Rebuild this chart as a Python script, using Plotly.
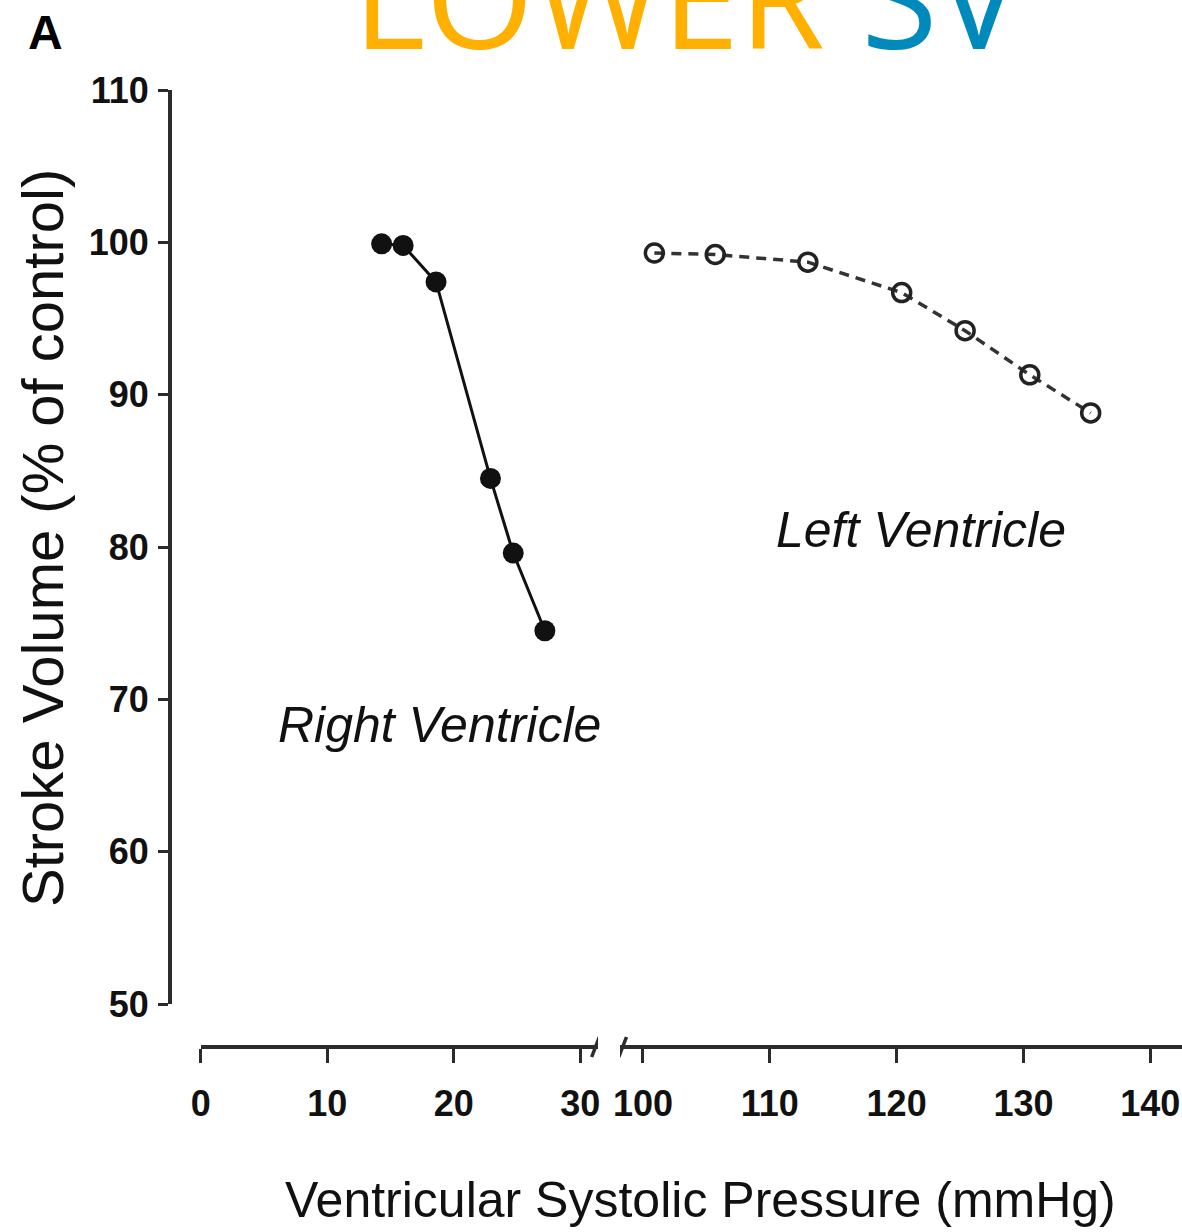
import plotly.graph_objects as go

# ---- data ----
rv_pressure = [14.3, 16.0, 18.6, 22.9, 24.7, 27.2]
rv_sv = [99.9, 99.8, 97.4, 84.5, 79.6, 74.5]
lv_pressure = [100.9, 105.7, 113.0, 120.4, 125.4, 130.5, 135.3]
lv_sv = [99.3, 99.2, 98.7, 96.7, 94.2, 91.3, 88.8]
x_ticks_left = [0, 10, 20, 30]
x_ticks_right = [100, 110, 120, 130, 140]
y_ticks = [50, 60, 70, 80, 90, 100, 110]

W, H = 1182, 1232
def px(x):
    return x / W
def py(y):
    return 1 - y / H

AX = "#2b2b2b"
FAM = "Liberation Sans, Arial, sans-serif"
TICKFONT = dict(family=FAM, size=36, color="#111", weight="bold")

fig = go.Figure()
fig.add_trace(go.Scatter(
    x=rv_pressure, y=rv_sv, xaxis="x", yaxis="y", mode="lines+markers",
    line=dict(color="#111", width=3),
    marker=dict(symbol="circle", size=21, color="#111"),
    showlegend=False, cliponaxis=False))
fig.add_trace(go.Scatter(
    x=lv_pressure, y=lv_sv, xaxis="x2", yaxis="y", mode="lines+markers",
    line=dict(color="#333", width=3.5, dash="10px,7px"),
    marker=dict(symbol="circle-open", size=18, color="#222", line=dict(width=3.5)),
    showlegend=False, cliponaxis=False))

common_x = dict(showgrid=False, zeroline=False, showline=True, linecolor=AX, linewidth=3.5,
                ticks="outside", ticklen=14, tickwidth=3, tickcolor=AX,
                tickfont=TICKFONT, anchor="free", position=py(1047),
                ticklabelstandoff=10, automargin=False)
fig.update_layout(
    width=W, height=H,
    margin=dict(l=0, r=0, t=0, b=0, autoexpand=False),
    paper_bgcolor="white", plot_bgcolor="white",
    xaxis=dict(common_x, domain=[px(200.7), px(598)], range=[0, 31.4],
               tickmode="array", tickvals=x_ticks_left),
    xaxis2=dict(common_x, domain=[px(620), 1.0], range=[98.19, 142.5],
                tickmode="array", tickvals=x_ticks_right),
    yaxis=dict(domain=[py(1004), py(90)], range=[50, 110], anchor="free", position=px(170),
               showgrid=False, zeroline=False, showline=True, linecolor=AX, linewidth=4,
               ticks="outside", ticklen=10, tickwidth=3, tickcolor=AX,
               tickmode="array", tickvals=y_ticks, automargin=False,
               tickfont=TICKFONT, ticklabelstandoff=2),
    yaxis2=dict(domain=[py(1004), py(90)], range=[50, 110], anchor="free", position=px(170),
                overlaying="y", showgrid=False, zeroline=False, showline=False,
                ticks="inside", ticklen=10, tickwidth=3, tickcolor=AX, automargin=False,
                tickmode="array", tickvals=y_ticks, showticklabels=False),
)

# Break marks on the x axis
for xr, xv in (("x", 31.2), ("x2", 98.4)):
    fig.add_shape(type="line", xref=xr, yref="paper",
                  x0=xv - 0.3, x1=xv + 0.3, y0=py(1057), y1=py(1037),
                  line=dict(color=AX, width=3.5))

fig.add_annotation(text="Right Ventricle", x=18.9, y=68.3, xref="x", yref="y",
                   xanchor="center", yanchor="middle", showarrow=False,
                   font=dict(family=FAM, size=50, style="italic", color="#111"))
fig.add_annotation(text="Left Ventricle", x=121.9, y=81.1, xref="x2", yref="y",
                   xanchor="center", yanchor="middle", showarrow=False,
                   font=dict(family=FAM, size=50, style="italic", color="#111"))
fig.add_annotation(text="Ventricular Systolic Pressure (mmHg)", x=px(700), y=py(1200),
                   xref="paper", yref="paper", xanchor="center", yanchor="middle",
                   showarrow=False, font=dict(family=FAM, size=50, color="#111"))
fig.add_annotation(text="Stroke Volume (% of control)", x=px(42), y=py(538),
                   xref="paper", yref="paper", xanchor="center", yanchor="middle",
                   showarrow=False, textangle=-90,
                   font=dict(family=FAM, size=58, color="#111"))
fig.add_annotation(text="<b>A</b>", x=px(45), y=py(32), xref="paper", yref="paper",
                   xanchor="center", yanchor="middle", showarrow=False,
                   font=dict(family=FAM, size=48, color="#000"))
fig.add_annotation(text="<span style='color:#FFB000'>LOWER</span> <span style='color:#008ABB'>SV</span>",
                   x=px(686), y=py(92), xref="paper", yref="paper",
                   xanchor="center", yanchor="bottom", showarrow=False,
                   font=dict(family="Open Sans, Noto Sans, sans-serif", size=139))

fig.write_html("out.html", config={"displayModeBar": False},
               post_script="document.body.style.margin='0';document.body.style.overflow='hidden';")
